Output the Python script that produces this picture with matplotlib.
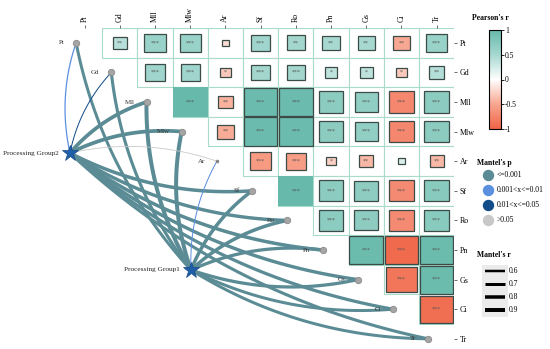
import numpy as np
import matplotlib
matplotlib.use('Agg')
import matplotlib.pyplot as plt
from matplotlib.colors import LinearSegmentedColormap, Normalize
from matplotlib.cm import ScalarMappable
from matplotlib.patches import Rectangle

plt.rcParams['font.family'] = ['Liberation Serif', 'DejaVu Serif']

variables = ['Pt', 'Gd', 'Mll', 'Mlw', 'Ar', 'Sf', 'Ro', 'Pn', 'Gs', 'Ci', 'Tr']

# Pearson's r, upper triangle: row i holds columns i+1 .. end
r_rows = [
    [0.40, 0.60, 0.60, -0.20, 0.55, 0.52, 0.49, 0.49, -0.49, 0.60],
    [0.55, 0.55, -0.30, 0.52, 0.52, 0.36, 0.36, -0.30, 0.42],
    [1.00, -0.43, 0.96, 0.96, 0.71, 0.66, -0.73, 0.71],
    [-0.47, 0.96, 0.96, 0.71, 0.66, -0.73, 0.71],
    [-0.59, -0.57, -0.27, -0.40, 0.21, -0.40],
    [1.00, 0.71, 0.68, -0.71, 0.72],
    [0.71, 0.68, -0.71, 0.72],
    [0.95, -0.95, 0.95],
    [-0.86, 0.95],
    [-0.92],
]
sig_rows = [
    ['**', '***', '***', '', '***', '**', '**', '**', '**', '***'],
    ['***', '***', '*', '***', '***', '*', '*', '*', '**'],
    ['***', '**', '***', '***', '***', '***', '***', '***'],
    ['**', '***', '***', '***', '***', '***', '***'],
    ['***', '***', '*', '**', '', '**'],
    ['***', '***', '***', '***', '***'],
    ['***', '***', '***', '***'],
    ['***', '***', '***'],
    ['***', '***'],
    ['***'],
]

groups = ['Processing Group1', 'Processing Group2']
p_levels = ['<=0.001', '0.001<x<=0.01', '0.01<x<=0.05', '>0.05']
p_colors = ['#5b8c95', '#5b8fdf', '#124d8a', '#c8c8c8']
r_legend = [0.6, 0.7, 0.8, 0.9]

# mantel test per variable (p as index into p_levels)
g1_p = [0, 0, 0, 0, 1, 0, 0, 0, 0, 0, 0]
g1_r = [0.70, 0.72, 0.90, 0.90, 0.30, 0.80, 0.80, 0.75, 0.75, 0.70, 0.70]
g2_p = [1, 2, 0, 0, 3, 0, 0, 0, 0, 0, 0]
g2_r = [0.35, 0.30, 0.85, 0.85, 0.15, 0.80, 0.78, 0.80, 0.78, 0.75, 0.72]

# ---- layout (pixels) ----
W, H = 550, 349
cw, ch = 35.2, 29.6
gx0, gy0 = 67, 28
n = len(variables)

cmap = LinearSegmentedColormap.from_list(
    'pr', [(0, '#ef6446'), (0.25, '#f8a690'), (0.5, '#ffffff'),
           (0.75, '#a6d8d0'), (1, '#66b9ab')])
norm = Normalize(-1, 1)

fig = plt.figure(figsize=(W / 100, H / 100), dpi=100)
ax = fig.add_axes([gx0 / W, 1 - (gy0 + n * ch) / H, n * cw / W, n * ch / H])
ax.set_xlim(0, n)
ax.set_ylim(n, 0)
ax.patch.set_visible(False)
for s in ax.spines.values():
    s.set_visible(False)

# heatmap
for i, row in enumerate(r_rows):
    for k, r in enumerate(row):
        j = i + 1 + k
        ax.add_patch(Rectangle((j, i), 1, 1, fc='white', ec='#a8dcc8', lw=0.8, zorder=1))
        s = abs(r)
        ax.add_patch(Rectangle((j + 0.5 - s / 2, i + 0.5 - s / 2), s, s,
                               fc=cmap(norm(r)), ec='#3c4b47' if s < 1 else 'none',
                               lw=0.9, zorder=2))
        if sig_rows[i][k]:
            ax.text(j + 0.5, i + 0.5, sig_rows[i][k], ha='center', va='center',
                    fontsize=4.2, color='#555555', zorder=3)

ax.xaxis.tick_top()
ax.yaxis.tick_right()
ax.set_xticks(np.arange(n) + 0.5, variables, rotation=90, fontsize=5.7)
ax.set_yticks(np.arange(n) + 0.5, variables, fontsize=5.7)
ax.tick_params(length=2.5, width=0.6, color='#555555', pad=1.5)

# network
node_x = np.arange(n) + 0.5 - 8.5 / cw
node_y = np.arange(n) + 0.5
group_pos = {'Processing Group1': ((191 - gx0) / cw, (270 - gy0) / ch),
             'Processing Group2': ((70 - gx0) / cw, (153 - gy0) / ch)}


def curve(p0, p2, side, k=0.14):
    a = np.array([p0[0] * cw, p0[1] * ch])
    b = np.array([p2[0] * cw, p2[1] * ch])
    d = b - a
    L = np.hypot(*d)
    nv = np.array([d[1], -d[0]]) / L
    c = (a + b) / 2 + side * k * L * nv
    t = np.linspace(0, 1, 80)[:, None]
    pts = (1 - t) ** 2 * a + 2 * (1 - t) * t * c + t ** 2 * b
    return pts[:, 0] / cw, pts[:, 1] / ch


edges = []
for g, ps, rs in [('Processing Group1', g1_p, g1_r), ('Processing Group2', g2_p, g2_r)]:
    gx, gy = group_pos[g]
    for i in range(n):
        # curves bend one way towards nodes above the hub, the other way below it
        side = 1 if node_y[i] - gy < 0.3 else -1
        edges.append((rs[i], gx, gy, i, side, p_colors[ps[i]]))

edges.sort(key=lambda e: -e[0])
for r, gx, gy, i, side, col in edges:
    xs, ys = curve((gx, gy), (node_x[i], node_y[i]), side)
    lw = max(0.8, 5 * r - 0.5) * 0.72
    ax.plot(xs, ys, color=col, lw=lw, solid_capstyle='round', clip_on=False, zorder=4)

max_r = np.maximum(g1_r, g2_r)
for i, v in enumerate(variables):
    big = max_r[i] >= 0.5
    ax.plot(node_x[i], node_y[i], 'o', ms=4.6 if big else 2.0,
            mfc='#a5a5a5' if big else '#777777', mec='#8a8a8a', mew=0.6,
            clip_on=False, zorder=5)
    ax.text(node_x[i] - 12 / cw, node_y[i], v, ha='right', va='center',
            fontsize=5, color='#333333', clip_on=False, zorder=5)

for g in groups:
    gx, gy = group_pos[g]
    ax.plot(gx, gy, marker='*', ms=12, color='#1f5ea8', mec='#174a88', mew=0.5,
            clip_on=False, zorder=6)
    ax.text(gx - 11 / cw, gy, g, ha='right', va='center', fontsize=5.2,
            color='#222222', clip_on=False, zorder=6)

# colorbar
cax = fig.add_axes([489 / W, 1 - 129 / H, 12 / W, 99 / H])
cb = fig.colorbar(ScalarMappable(norm, cmap), cax=cax, ticks=[1, 0.5, 0, -0.5, -1])
cb.ax.set_yticklabels(['1', '0.5', '0', '-0.5', '-1'])
cb.ax.tick_params(length=2, width=0.6, labelsize=5.5, pad=1)
cb.outline.set_linewidth(0.8)
fig.text(490 / W, 1 - 18 / H, "Pearson's r", ha='center', va='center',
         fontsize=5.5, fontweight='bold')

# legends
lax = fig.add_axes([0, 0, 1, 1])
lax.set_xlim(0, W)
lax.set_ylim(H, 0)
lax.axis('off')
lax.patch.set_visible(False)

lax.text(477, 163, "Mantel's p", ha='left', va='center', fontsize=5.5, fontweight='bold')
for k, (lab, col) in enumerate(zip(p_levels, p_colors)):
    y = 175 + 15 * k
    lax.plot(488, y, 'o', ms=7.2, color=col, mec=col)
    lax.text(497, y, lab, ha='left', va='center', fontsize=5.5)

lax.text(477, 255, "Mantel's r", ha='left', va='center', fontsize=5.5, fontweight='bold')
lax.add_patch(Rectangle((482, 265), 26, 52, fc='#ebebeb', ec='none'))
for k, r in enumerate(r_legend):
    y = 271 + 13 * k
    lax.plot([485, 505], [y, y], color='black', lw=max(0.8, 5 * r - 0.5) * 0.72,
             solid_capstyle='butt')
    lax.text(509, y, str(r), ha='left', va='center', fontsize=5.5)

fig.savefig('out.png', dpi=100)
